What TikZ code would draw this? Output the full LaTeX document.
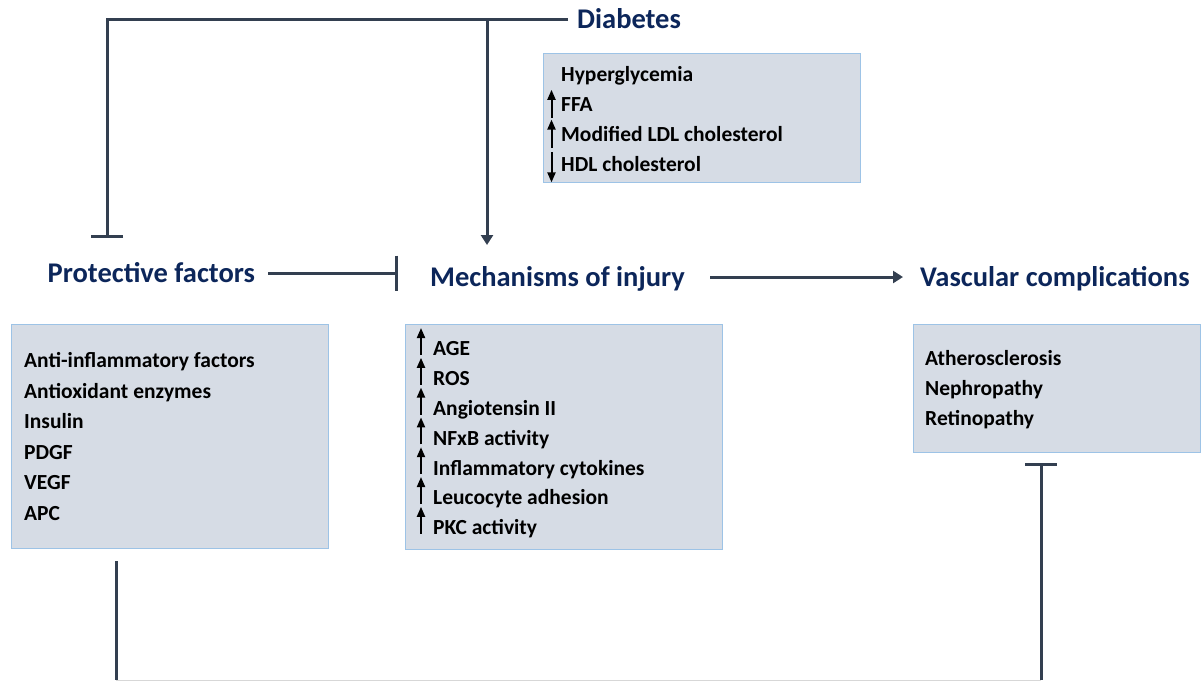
\documentclass[tikz,border=0pt]{standalone}
\usepackage{fontspec}
\setmainfont{Carlito}
\usetikzlibrary{arrows.meta}
\definecolor{navy}{RGB}{12,38,90}
\definecolor{slate}{RGB}{51,63,80}
\definecolor{boxfill}{RGB}{214,220,229}
\definecolor{boxline}{RGB}{157,195,230}
\definecolor{faint}{RGB}{215,215,215}
\tikzset{
  head/.style={anchor=west, inner sep=0pt, text=navy, font=\fontsize{28.5}{32}\selectfont\bfseries, text height=18.4pt, text depth=0pt},
  item/.style={anchor=west, inner sep=0pt, font=\fontsize{21.5}{25}\selectfont\bfseries, text height=13.8pt, text depth=0pt},
  panel/.style={anchor=north west, draw=boxline, fill=boxfill, line width=1.2pt, inner sep=0pt},
  link/.style={draw=slate, line width=3pt},
  up/.style={-{Triangle[width=8pt,length=10pt]}, line width=2pt},
}
\begin{document}
\begin{tikzpicture}[x=1pt,y=-1pt]
    \useasboundingbox (0,0) rectangle (1204,681);
    % headings
    \node[head] (diabetes) at (577,19.5) {Diabetes};
    \node[head] (protect) at (47.5,273) {Protective factors};
    \node[head] (mech) at (430,277) {Mechanisms of injury};
    \node[head] (vasc) at (920,277.5) {Vascular complications};
    % boxes
    \node[panel, minimum width=317pt, minimum height=129pt] (diabox) at (543,53) {};
    \node[panel, minimum width=317pt, minimum height=224pt] (protbox) at (11,324) {};
    \node[panel, minimum width=317pt, minimum height=225pt] (mechbox) at (405,324) {};
    \node[panel, minimum width=287pt, minimum height=128pt] (vascbox) at (913,324) {};
    % box contents
    \foreach \t [count=\i] in {Hyperglycemia, FFA, Modified LDL cholesterol, HDL cholesterol}
        \node[item] (d\i) at (561,{75+29.8*(\i-1)}) {\t};
    \draw[up] ([shift={(-9.5,13)}]d2.west) -- ([shift={(-9.5,-15)}]d2.west);
    \draw[up] ([shift={(-9.5,13)}]d3.west) -- ([shift={(-9.5,-15)}]d3.west);
    \draw[up] ([shift={(-9.5,-12)}]d4.west) -- ([shift={(-9.5,18)}]d4.west);
    \foreach \t [count=\i] in {Anti-inflammatory factors, Antioxidant enzymes, Insulin, PDGF, VEGF, APC}
        \node[item] (p\i) at (24,{361+30.5*(\i-1)}) {\t};
    \foreach \t [count=\i] in {AGE, ROS, Angiotensin II, NFxB activity, Inflammatory cytokines, Leucocyte adhesion, PKC activity}{
        \node[item] (m\i) at (433,{349+29.8*(\i-1)}) {\t};
        \draw[up] ([shift={(-12,6)}]m\i.west) -- ([shift={(-12,-21)}]m\i.west);
    }
    \foreach \t [count=\i] in {Atherosclerosis, Nephropathy, Retinopathy}
        \node[item] (v\i) at (925,{359+30*(\i-1)}) {\t};
    % connectors
    \coordinate (pbar) at (107,238);
    \coordinate (dmid) at (487,19.5);
    \coordinate (mtop) at (487,245);
    \draw[link, -{Bar[width=32pt]}, shorten <=9pt] (diabetes.west) -| (pbar);
    \draw[link, -{Triangle[width=12pt,length=10pt]}] (dmid) -- (mtop);
    \draw[link, -{Bar[width=35pt]}, shorten <=13pt, shorten >=32pt] (protect.east) -- (protect.east -| mech.west);
    \draw[link, -{Triangle[width=12pt,length=10pt]}, shorten <=25pt, shorten >=17pt] (mech.east) -- (mech.east -| vasc.west);
    \coordinate (pl) at (116,561);
    \coordinate (bl) at (116,680);
    \coordinate (br) at (1041,680);
    \coordinate (pr) at (1041,463);
    \draw[link] (pl) -- (bl);
    \draw[link, -{Bar[width=32pt]}] (br) -- (pr);
    \draw[faint, line width=1pt] (bl) -- (br);
\end{tikzpicture}
\end{document}
